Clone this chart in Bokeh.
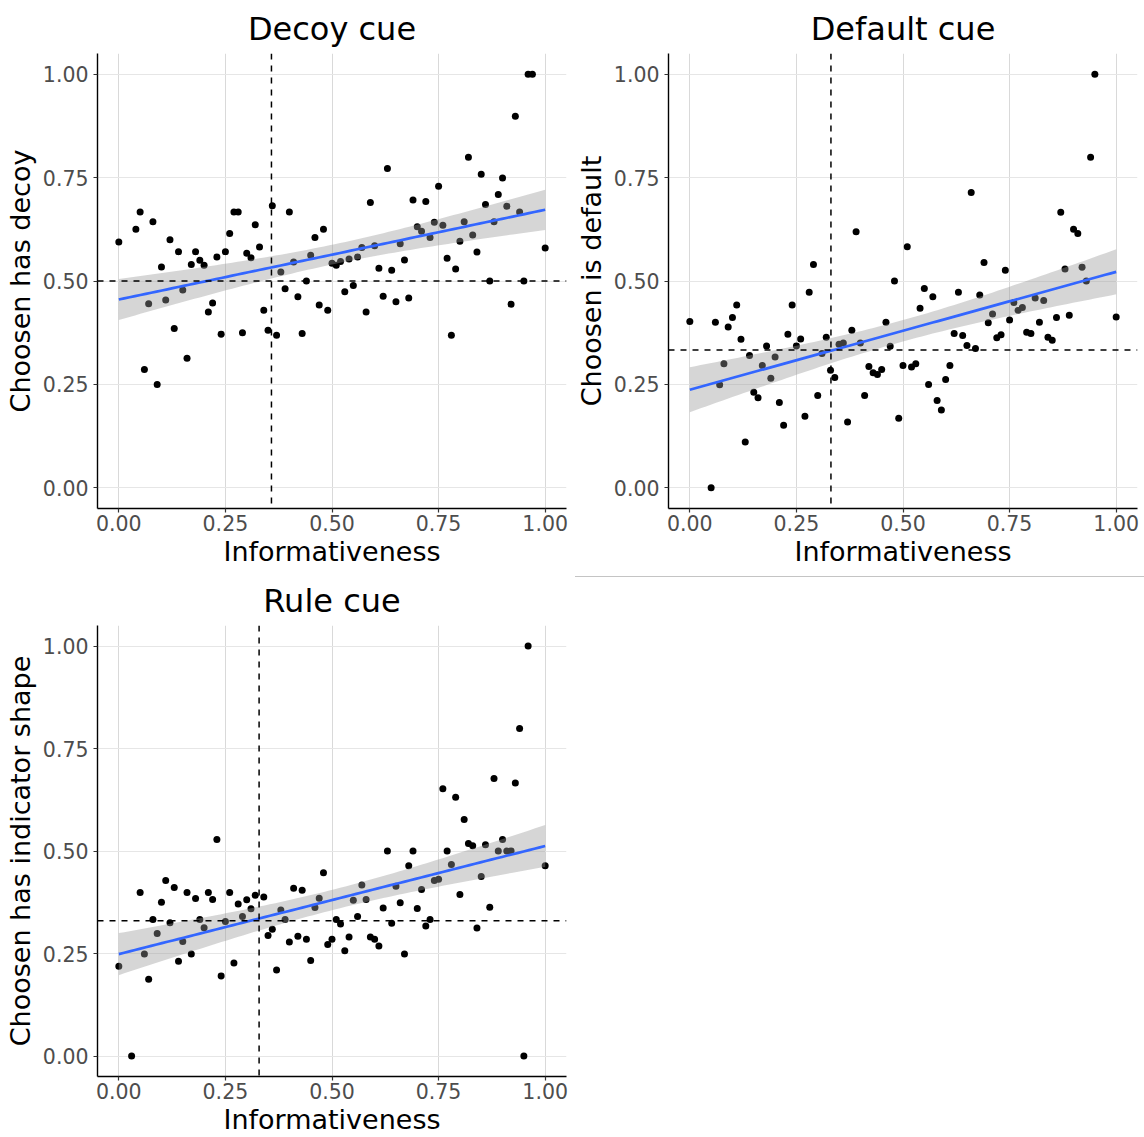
import numpy as np
from bokeh.plotting import figure
from bokeh.models import Span, FixedTicker, NumeralTickFormatter, Range1d, Div
from bokeh.layouts import row, column
from bokeh.embed import file_html
from bokeh.resources import INLINE

# ---------------- data ----------------
decoy_x = [0.00, 0.04, 0.05, 0.06, 0.07, 0.08, 0.09, 0.10, 0.11, 0.12, 0.13, 0.14, 0.15, 0.16,
           0.17, 0.18, 0.19, 0.20, 0.21, 0.22, 0.23, 0.24, 0.25, 0.26, 0.27, 0.28, 0.29, 0.30,
           0.31, 0.32, 0.33, 0.34, 0.35, 0.36, 0.37, 0.38, 0.39, 0.40, 0.41, 0.42, 0.43, 0.44,
           0.45, 0.46, 0.47, 0.48, 0.49, 0.50, 0.51, 0.52, 0.53, 0.54, 0.55, 0.56, 0.57, 0.58,
           0.59, 0.60, 0.61, 0.62, 0.63, 0.64, 0.65, 0.66, 0.67, 0.68, 0.69, 0.70, 0.71, 0.72,
           0.73, 0.74, 0.75, 0.76, 0.77, 0.78, 0.79, 0.80, 0.81, 0.82, 0.83, 0.84, 0.85, 0.86,
           0.87, 0.88, 0.89, 0.90, 0.91, 0.92, 0.93, 0.94, 0.95, 0.96, 0.97, 1.00]
decoy_y = [0.594, 0.625, 0.667, 0.286, 0.445, 0.643, 0.250, 0.534, 0.454, 0.600, 0.385, 0.571,
           0.478, 0.313, 0.540, 0.571, 0.550, 0.538, 0.425, 0.447, 0.558, 0.371, 0.571, 0.615,
           0.667, 0.667, 0.375, 0.567, 0.556, 0.636, 0.582, 0.429, 0.381, 0.682, 0.369, 0.522,
           0.481, 0.667, 0.546, 0.462, 0.373, 0.500, 0.562, 0.605, 0.442, 0.625, 0.429, 0.543,
           0.538, 0.547, 0.474, 0.553, 0.489, 0.558, 0.581, 0.425, 0.690, 0.585, 0.531, 0.463,
           0.772, 0.526, 0.450, 0.590, 0.551, 0.459, 0.696, 0.631, 0.620, 0.692, 0.605, 0.642,
           0.729, 0.635, 0.555, 0.369, 0.529, 0.596, 0.643, 0.799, 0.611, 0.570, 0.758, 0.685,
           0.500, 0.643, 0.709, 0.749, 0.681, 0.444, 0.898, 0.667, 0.500, 1.000, 1.000, 0.580]

default_x = [0.00, 0.05, 0.06, 0.07, 0.08, 0.09, 0.10, 0.11, 0.12, 0.13, 0.14, 0.15, 0.16, 0.17,
             0.18, 0.19, 0.20, 0.21, 0.22, 0.23, 0.24, 0.25, 0.26, 0.27, 0.28, 0.29, 0.30, 0.31,
             0.32, 0.33, 0.34, 0.35, 0.36, 0.37, 0.38, 0.39, 0.40, 0.41, 0.42, 0.43, 0.44, 0.45,
             0.46, 0.47, 0.48, 0.49, 0.50, 0.51, 0.52, 0.53, 0.54, 0.55, 0.56, 0.57, 0.58, 0.59,
             0.60, 0.61, 0.62, 0.63, 0.64, 0.65, 0.66, 0.67, 0.68, 0.69, 0.70, 0.71, 0.72, 0.73,
             0.74, 0.75, 0.76, 0.77, 0.78, 0.79, 0.80, 0.81, 0.82, 0.83, 0.84, 0.85, 0.86, 0.87,
             0.88, 0.89, 0.90, 0.91, 0.92, 0.93, 0.94, 0.95, 1.00]
default_y = [0.402, 0.000, 0.400, 0.249, 0.300, 0.389, 0.412, 0.442, 0.359, 0.111, 0.320, 0.231,
             0.218, 0.296, 0.343, 0.265, 0.316, 0.206, 0.151, 0.371, 0.442, 0.343, 0.360, 0.173,
             0.473, 0.540, 0.223, 0.325, 0.364, 0.284, 0.267, 0.347, 0.350, 0.159, 0.381, 0.619,
             0.350, 0.223, 0.293, 0.278, 0.274, 0.286, 0.400, 0.342, 0.500, 0.168, 0.296, 0.583,
             0.292, 0.300, 0.434, 0.482, 0.250, 0.462, 0.211, 0.188, 0.262, 0.296, 0.373, 0.473,
             0.368, 0.344, 0.714, 0.337, 0.466, 0.545, 0.399, 0.420, 0.363, 0.370, 0.526, 0.406,
             0.448, 0.429, 0.436, 0.376, 0.373, 0.459, 0.400, 0.453, 0.364, 0.357, 0.412, 0.666,
             0.529, 0.417, 0.625, 0.615, 0.533, 0.500, 0.799, 1.000, 0.413]

rule_x = [0.00, 0.03, 0.05, 0.06, 0.07, 0.08, 0.09, 0.10, 0.11, 0.12, 0.13, 0.14, 0.15, 0.16,
          0.17, 0.18, 0.19, 0.20, 0.21, 0.22, 0.23, 0.24, 0.25, 0.26, 0.27, 0.28, 0.29, 0.30,
          0.31, 0.32, 0.34, 0.35, 0.36, 0.37, 0.38, 0.39, 0.40, 0.41, 0.42, 0.43, 0.44, 0.45,
          0.46, 0.47, 0.48, 0.49, 0.50, 0.51, 0.52, 0.53, 0.54, 0.55, 0.56, 0.57, 0.58, 0.59,
          0.60, 0.61, 0.62, 0.63, 0.64, 0.65, 0.66, 0.67, 0.68, 0.69, 0.70, 0.71, 0.72, 0.73,
          0.74, 0.75, 0.76, 0.77, 0.78, 0.79, 0.80, 0.81, 0.82, 0.83, 0.84, 0.85, 0.86, 0.87,
          0.88, 0.89, 0.90, 0.91, 0.92, 0.93, 0.94, 0.95, 0.96, 1.00]
rule_y = [0.219, 0.000, 0.399, 0.249, 0.187, 0.333, 0.299, 0.375, 0.428, 0.325, 0.411, 0.231,
          0.279, 0.399, 0.249, 0.384, 0.333, 0.313, 0.399, 0.382, 0.528, 0.195, 0.328, 0.399,
          0.227, 0.371, 0.340, 0.381, 0.359, 0.392, 0.388, 0.294, 0.309, 0.210, 0.356, 0.333,
          0.278, 0.409, 0.292, 0.404, 0.285, 0.233, 0.362, 0.385, 0.447, 0.272, 0.285, 0.333,
          0.322, 0.257, 0.290, 0.380, 0.340, 0.417, 0.382, 0.290, 0.285, 0.268, 0.361, 0.500,
          0.324, 0.414, 0.374, 0.249, 0.464, 0.500, 0.360, 0.406, 0.317, 0.333, 0.428, 0.431,
          0.652, 0.500, 0.467, 0.631, 0.394, 0.577, 0.518, 0.513, 0.312, 0.438, 0.515, 0.363,
          0.677, 0.500, 0.528, 0.500, 0.500, 0.666, 0.799, 0.000, 1.000, 0.464]

titles = ["Decoy cue", "Default cue", "Rule cue"]
y_labels = ["Choosen has decoy", "Choosen is default", "Choosen has indicator shape"]
x_label = "Informativeness"
v_lines = [0.358, 0.331, 0.329]
h_lines = [0.500, 0.333, 0.330]
tick_values = [0.0, 0.25, 0.5, 0.75, 1.0]

FONT = "DejaVu Sans"
T_CRIT = 1.986


def panel(title, ylabel, xs, ys, vline, hline, width, height, left, right, top, bottom):
    p = figure(width=width, height=height, output_backend="svg", toolbar_location=None,
               x_range=Range1d(-0.05, 1.05), y_range=Range1d(-0.05, 1.05),
               min_border_left=left, min_border_right=right,
               min_border_top=top, min_border_bottom=bottom)
    p.outline_line_color = None
    p.background_fill_color = "white"
    p.border_fill_color = "white"

    p.title.text = title
    p.title.align = "center"
    p.title.text_font = FONT
    p.title.text_font_size = "32px"
    p.title.text_font_style = "normal"
    p.title.text_color = "black"
    p.title.standoff = 12

    for ax, lab in ((p.xaxis, x_label), (p.yaxis, ylabel)):
        ax.ticker = FixedTicker(ticks=tick_values)
        ax.formatter = NumeralTickFormatter(format="0.00")
        ax.axis_label = lab
        ax.axis_label_text_font = FONT
        ax.axis_label_text_font_size = "27px"
        ax.axis_label_text_font_style = "normal"
        ax.axis_label_text_color = "black"
        ax.major_label_text_font = FONT
        ax.major_label_text_font_size = "20.5px"
        ax.major_label_text_color = "#4d4d4d"
        ax.axis_line_color = "black"
        ax.axis_line_width = 1.4
        ax.major_tick_in = 0
        ax.major_tick_out = 4
        ax.major_tick_line_color = "#333333"
        ax.major_tick_line_width = 1.2
        ax.minor_tick_line_color = None
    p.xaxis.major_label_standoff = 2
    p.xaxis.axis_label_standoff = 2
    p.yaxis.major_label_standoff = 5
    p.yaxis.axis_label_standoff = 4

    p.xgrid.ticker = FixedTicker(ticks=tick_values)
    p.ygrid.ticker = FixedTicker(ticks=tick_values)
    p.xgrid.grid_line_color = "#d9d9d9"
    p.ygrid.grid_line_color = "#e6e6e6"
    p.xgrid.grid_line_width = 1
    p.ygrid.grid_line_width = 1

    xs = np.asarray(xs, dtype=float)
    ys = np.asarray(ys, dtype=float)

    # points
    p.scatter(xs, ys, size=7, marker="circle", fill_color="black", line_color=None)

    # linear fit with 95% confidence band (as geom_smooth(method="lm"))
    n = len(xs)
    slope, intercept = np.polyfit(xs, ys, 1)
    resid = ys - (intercept + slope * xs)
    s = np.sqrt(np.sum(resid ** 2) / (n - 2))
    xbar = xs.mean()
    sxx = np.sum((xs - xbar) ** 2)
    gx = np.linspace(xs.min(), xs.max(), 80)
    gy = intercept + slope * gx
    se = s * np.sqrt(1.0 / n + (gx - xbar) ** 2 / sxx)
    p.varea(x=gx, y1=gy - T_CRIT * se, y2=gy + T_CRIT * se, fill_color="#999999", fill_alpha=0.4)
    p.line(gx, gy, line_color="#3366FF", line_width=2.7)

    p.add_layout(Span(location=vline, dimension="height", line_color="black",
                      line_dash="6 6", line_width=1.5))
    p.add_layout(Span(location=hline, dimension="width", line_color="black",
                      line_dash="6 6", line_width=1.5))
    return p


p1 = panel(titles[0], y_labels[0], decoy_x, decoy_y, v_lines[0], h_lines[0],
           572, 572, 97, 6, 53, 64)
p2 = panel(titles[1], y_labels[1], default_x, default_y, v_lines[1], h_lines[1],
           572, 572, 96, 7, 53, 64)
p3 = panel(titles[2], y_labels[2], rule_x, rule_y, v_lines[2], h_lines[2],
           572, 565, 97, 6, 53, 57)

sep = Div(text="", width=569, height=1, margin=(4, 0, 0, 3),
          styles={"border-top": "1px solid #c4c4c4"})

layout = column(row(p1, p2), row(p3, sep))

open("out.html", "w").write(file_html(layout, INLINE))
